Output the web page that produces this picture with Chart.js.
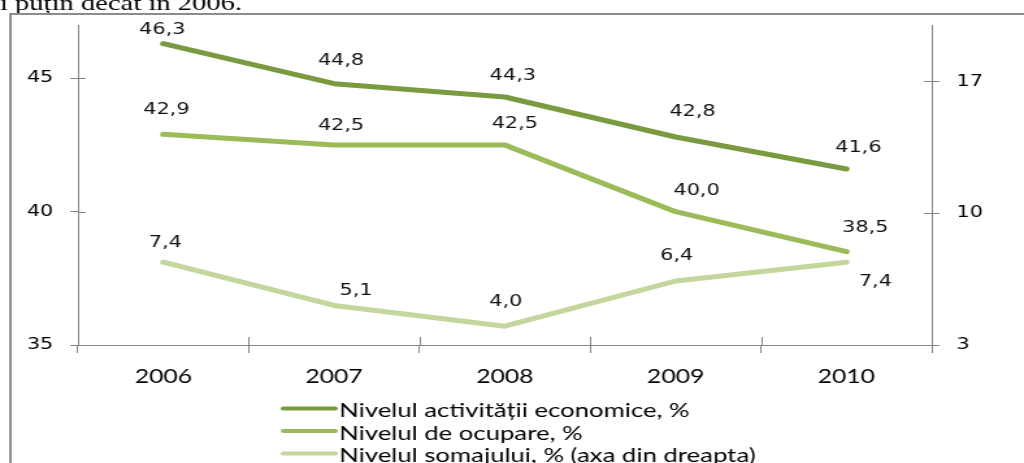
<!DOCTYPE html>
<html lang="ro">
<head>
<meta charset="UTF-8">
<title>Nivelul activitatii, ocuparii si somajului</title>
<script src="https://cdn.jsdelivr.net/npm/chart.js"></script>
<style>
  html, body { margin: 0; padding: 0; background: #fff; overflow: hidden; }
  /* the reference picture is stretched sideways, so the canvas is drawn narrow and shown at full width */
  #chart { display: block; width: 1024px !important; height: 463px !important; }
</style>
</head>
<body>
<canvas id="chart" width="788" height="463" style="width:1024px;height:463px"></canvas>

<script>
const years = ['2006', '2007', '2008', '2009', '2010'];
const activityRate = [46.3, 44.8, 44.3, 42.8, 41.6];
const employmentRate = [42.9, 42.5, 42.5, 40.0, 38.5];
const unemploymentRate = [7.4, 5.1, 4.0, 6.4, 7.4];
const leftTicks = [35, 40, 45];
const rightTicks = [3, 10, 17];
const seriesNames = [
  'Nivelul activității economice, %',
  'Nivelul de ocupare, %',
  'Nivelul somajului, % (axa din dreapta)'
];
const seriesColors = ['#7a9a40', '#9bbb59', '#c3d69b'];

// label nudges in screen px, [dx, dy] per point
const labelOffsets = [
  [[-1, -14], [7, -23], [8, -21], [17, -25], [12, -21]],
  [[3, -24], [7, -19], [10, -21], [21, -21], [19, -24]],
  [[2, -19], [22, -15], [1, -24], [1, -25], [29, 20]]
];

const STRETCH = 1024 / 788;
const AXIS = '#868686';

const framePlugin = {
  id: 'frame',
  beforeDraw(chart) {
    const ctx = chart.ctx;
    ctx.save();
    ctx.fillStyle = '#000';
    ctx.font = '22px "Liberation Serif"';
    ctx.textBaseline = 'alphabetic';
    ctx.fillText('i puțin decât în 2006.', 0, 9.5);
    ctx.strokeStyle = '#8c8c8c';
    ctx.lineWidth = 2;
    ctx.strokeRect(8, 14, 1000, 1000);
    ctx.restore();
  }
};

const innerTicks = {
  id: 'innerTicks',
  afterDraw(chart) {
    const ctx = chart.ctx;
    const a = chart.chartArea;
    ctx.save();
    ctx.strokeStyle = AXIS;
    ctx.lineWidth = 1;
    ctx.beginPath();
    leftTicks.forEach(v => {
      const y = Math.round(chart.scales.y.getPixelForValue(v)) + 0.5;
      ctx.moveTo(a.left, y); ctx.lineTo(a.left + 6, y);
    });
    rightTicks.forEach(v => {
      const y = Math.round(chart.scales.y1.getPixelForValue(v)) + 0.5;
      ctx.moveTo(a.right - 6, y); ctx.lineTo(a.right, y);
    });
    const step = (a.right - a.left) / years.length;
    for (let i = 0; i <= years.length; i++) {
      const x = Math.round(a.left + i * step) + 0.5;
      ctx.moveTo(x, a.bottom); ctx.lineTo(x, a.bottom - 8);
    }
    ctx.stroke();
    ctx.restore();
  }
};

const valueLabels = {
  id: 'valueLabels',
  afterDatasetsDraw(chart) {
    const ctx = chart.ctx;
    ctx.save();
    ctx.font = '16px "DejaVu Sans"';
    ctx.fillStyle = '#111';
    ctx.textAlign = 'center';
    ctx.textBaseline = 'middle';
    chart.data.datasets.forEach((ds, i) => {
      chart.getDatasetMeta(i).data.forEach((pt, j) => {
        const off = labelOffsets[i][j];
        const txt = ds.data[j].toFixed(1).replace('.', ',');
        ctx.fillText(txt, pt.x + off[0] / STRETCH, pt.y + off[1]);
      });
    });
    ctx.restore();
  }
};

const stackedLegend = {
  id: 'stackedLegend',
  afterDraw(chart) {
    const ctx = chart.ctx;
    const x0 = 218, x1 = 258, tx = 261;
    const rows = [411, 433.5, 456];
    ctx.save();
    ctx.font = '19.8px Lato';
    ctx.textBaseline = 'middle';
    ctx.fillStyle = '#000';
    chart.data.datasets.forEach((ds, i) => {
      const y = rows[i];
      ctx.strokeStyle = ds.borderColor;
      ctx.lineWidth = 4;
      ctx.lineCap = 'round';
      ctx.beginPath();
      ctx.moveTo(x0, y - 2.5);
      ctx.lineTo(x1, y - 2.5);
      ctx.stroke();
      ctx.fillText(ds.label, tx, y);
    });
    ctx.restore();
  }
};

function lineSet(label, data, color, axis) {
  return {
    label: label,
    data: data,
    yAxisID: axis,
    borderColor: color,
    backgroundColor: color,
    borderWidth: 5,
    borderCapStyle: 'round',
    borderJoinStyle: 'round',
    pointRadius: 0,
    tension: 0,
    fill: false
  };
}

new Chart(document.getElementById('chart'), {
  type: 'line',
  data: {
    labels: years,
    datasets: [
      lineSet(seriesNames[0], activityRate, seriesColors[0], 'y'),
      lineSet(seriesNames[1], employmentRate, seriesColors[1], 'y'),
      lineSet(seriesNames[2], unemploymentRate, seriesColors[2], 'y1')
    ]
  },
  options: {
    responsive: false,
    devicePixelRatio: 1,
    animation: false,
    layout: { padding: { top: 25, left: 0, right: 0, bottom: 0 } },
    plugins: {
      legend: { display: false },
      tooltip: { enabled: false }
    },
    scales: {
      x: {
        offset: true,
        grid: { display: true, drawOnChartArea: false, offset: true, tickLength: 8, color: AXIS },
        border: { display: true, color: AXIS },
        ticks: { font: { family: 'Lato', size: 19 }, color: '#000', padding: 12, maxRotation: 0 },
        afterFit: s => { s.height = 118; }
      },
      y: {
        position: 'left',
        min: 35,
        max: 47,
        afterBuildTicks: s => { s.ticks = leftTicks.map(v => ({ value: v })); },
        grid: { drawOnChartArea: false, tickLength: 6, color: AXIS },
        border: { display: true, color: AXIS },
        ticks: { font: { family: 'DejaVu Sans', size: 16 }, color: '#000', padding: 13 },
        afterFit: s => { s.width = 60; }
      },
      y1: {
        position: 'right',
        min: 3,
        max: 20,
        afterBuildTicks: s => { s.ticks = rightTicks.map(v => ({ value: v })); },
        grid: { drawOnChartArea: false, tickLength: 6, color: AXIS },
        border: { display: true, color: AXIS },
        ticks: { font: { family: 'DejaVu Sans', size: 16 }, color: '#000', padding: 13 },
        afterFit: s => { s.width = 71; }
      }
    }
  },
  plugins: [framePlugin, innerTicks, valueLabels, stackedLegend]
});
</script>
</body>
</html>
